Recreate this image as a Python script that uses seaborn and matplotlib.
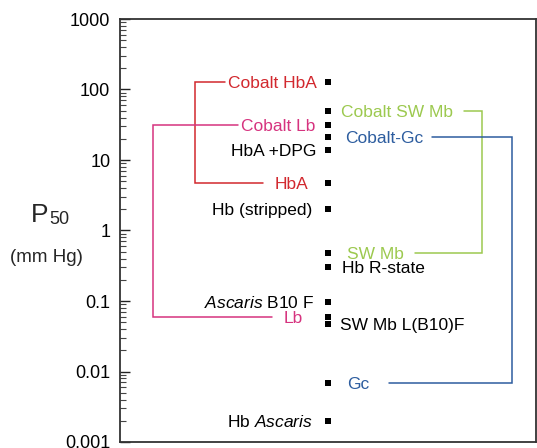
import matplotlib
matplotlib.use("Agg")
import matplotlib.pyplot as plt
import matplotlib.ticker as mticker
import numpy as np
import pandas as pd
import seaborn as sns

# P50 values (mm Hg), top to bottom
species = ["Cobalt HbA", "Cobalt SW Mb", "Cobalt Lb", "Cobalt-Gc", "HbA +DPG",
           "HbA", "Hb (stripped)", "SW Mb", "Hb R-state", "Ascaris B10 F",
           "Lb", "SW Mb L(B10)F", "Gc", "Hb Ascaris"]
p50 = [128, 49.5, 31, 21, 14, 4.7, 2.0, 0.48, 0.30, 0.097, 0.059, 0.047, 0.0069, 0.002]
label_text = ["Cobalt HbA", "Cobalt SW Mb", "Cobalt Lb", "Cobalt-Gc", "HbA +DPG",
              "HbA", "Hb (stripped)", "SW Mb", "Hb R-state", r"$\mathit{Ascaris}$ B10 F",
              "Lb", "SW Mb L(B10)F", "Gc", r"Hb $\mathit{Ascaris}$"]
label_side = ["left", "right", "left", "right", "left", "left", "left",
              "right", "right", "left", "left", "right", "right", "left"]
group = ["hba", "swmb", "lb", "gc", None, "hba", None,
         "swmb", None, None, "lb", None, "gc", None]

ytick_vals = [0.001, 0.01, 0.1, 1, 10, 100, 1000]
ytick_labels = ["0.001", "0.01", "0.1", "1", "10", "100", "1000"]

colors = {"hba": "#d2282e", "lb": "#d6337f", "swmb": "#9cc94f", "gc": "#2d5d9f", None: "black"}

# label anchor x (axes fraction): right edge for left labels, left edge for right labels
label_x = [0.474, 0.531, 0.469, 0.541, 0.471, 0.452, 0.462,
           0.546, 0.534, 0.466, 0.440, 0.529, 0.546, 0.464]

# connector brackets: (cobalt form, native form, bar x, top end x, bottom end x)
brackets = [("Cobalt HbA", "HbA", 0.180, 0.252, 0.344, "hba"),
            ("Cobalt Lb", "Lb", 0.079, 0.284, 0.365, "lb"),
            ("Cobalt SW Mb", "SW Mb", 0.870, 0.827, 0.709, "swmb"),
            ("Cobalt-Gc", "Gc", 0.942, 0.750, 0.647, "gc")]

df = pd.DataFrame({"species": species, "p50": p50, "x": 0.5})

sns.set_theme(style="ticks")
plt.rcParams["font.family"] = ["Liberation Sans", "DejaVu Sans"]
plt.rcParams["mathtext.fontset"] = "custom"
plt.rcParams["mathtext.rm"] = "Liberation Sans"
plt.rcParams["mathtext.it"] = "Liberation Sans:italic"

fig = plt.figure(figsize=(5.37, 4.48), dpi=100)
ax = fig.add_axes([120 / 537, 6 / 448, 416 / 537, 423 / 448])

sns.scatterplot(data=df, x="x", y="p50", marker="s", s=22, color="black",
                linewidth=0, ax=ax, legend=False)

ax.set_yscale("log")
ax.set_ylim(0.001, 1000)
ax.set_xlim(0, 1)
ax.set_xticks([])
ax.set_xlabel("")
ax.set_ylabel("")
ax.yaxis.set_major_locator(mticker.FixedLocator(ytick_vals))
ax.yaxis.set_major_formatter(mticker.FixedFormatter(ytick_labels))
ax.yaxis.set_minor_locator(mticker.LogLocator(base=10, subs=np.arange(2, 10), numticks=20))
ax.yaxis.set_minor_formatter(mticker.NullFormatter())
ax.tick_params(axis="y", which="major", direction="in", length=7, width=1.0,
               labelsize=13, pad=7, colors="#222222", labelcolor="black")
ax.tick_params(axis="y", which="minor", direction="in", length=4, width=0.8, colors="#444444")
for sp in ax.spines.values():
    sp.set_visible(True)
    sp.set_linewidth(1.3)
    sp.set_color("#333333")

ytrans = ax.get_yaxis_transform()
for txt, val, side, g, lx in zip(label_text, p50, label_side, group, label_x):
    ha = "right" if side == "left" else "left"
    ax.text(lx, val, txt, transform=ytrans, ha=ha, va="center_baseline",
            fontsize=12.5, color=colors[g])

lookup = dict(zip(species, p50))
for top, bottom, bar_x, top_end, bot_end, g in brackets:
    y_top, y_bot = lookup[top], lookup[bottom]
    ax.plot([top_end, bar_x, bar_x, bot_end], [y_top, y_top, y_bot, y_bot],
            transform=ytrans, color=colors[g], linewidth=1.1, solid_joinstyle="miter")

fig.text(31 / 537, 1 - 222 / 448, "P", fontsize=19, ha="left", va="baseline")
fig.text(49 / 537, 1 - 224 / 448, "50", fontsize=13, ha="left", va="baseline")
fig.text(46 / 537, 1 - 257 / 448, "(mm Hg)", fontsize=13.5, ha="center", va="center")

fig.savefig("out.png", dpi=100)
